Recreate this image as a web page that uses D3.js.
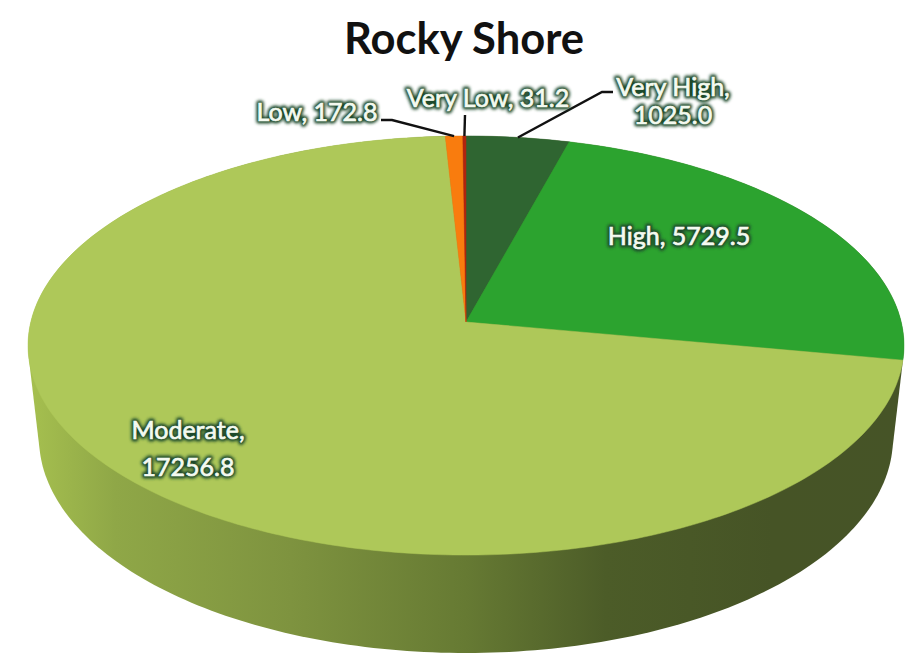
<!DOCTYPE html>
<html><head><meta charset="utf-8">
<script src="https://cdn.jsdelivr.net/npm/d3@7"></script>
<style>html,body{margin:0;background:#fff}svg{display:block}text{font-family:Lato,"Open Sans",sans-serif}</style>
</head><body><svg id="c" width="912" height="655"></svg>
<script>
const categories=["Very High","High","Moderate","Low","Very Low"];
const seriesValues=[1025.0,5729.5,17256.8,172.8,31.2];
const sliceColors=["#2f6531","#2ca32f","#aec859","#f97c0e","#b0240f"];
const chartTitle="Rocky Shore";

const svg=d3.select("#c"), defs=svg.append("defs");
const cx=466, cy=322, d=435.2, c=206.9, k=0.1122;
// perspective projection of the pie disc
const project=(a,r=1)=>{const X=r*Math.sin(a),Y=-r*Math.cos(a),w=1-k*Y;return [cx+d*X/w,cy+c*Y/w];};
const pie=d3.pie().sort(null)(seriesValues);
const line=d3.line();
const arcPts=(a0,a1)=>d3.range(0,1.0001,1/Math.max(2,Math.ceil((a1-a0)*60))).map(t=>project(a0+(a1-a0)*t));

// side wall: hull of top rim and the smaller lower rim
const g=defs.append("linearGradient").attr("id","side").attr("gradientUnits","userSpaceOnUse").attr("x1",28).attr("x2",904).attr("y1",0).attr("y2",0);
[[0,"#a6c04f"],[.1,"#8fa747"],[.3,"#7e933f"],[.5,"#667a33"],[.66,"#4c5c28"],[.85,"#465426"],[1,"#465427"]].forEach(([o,col])=>g.append("stop").attr("offset",o).attr("stop-color",col));
const rim=d3.range(0,2*Math.PI,.02);
const upper=rim.map(a=>project(a));
const lower=rim.map(a=>[466+427*Math.sin(a),438-215*Math.cos(a)]);
svg.append("path").attr("d",line(d3.polygonHull(upper.concat(lower)))+"Z").attr("fill","url(#side)");

// top face
pie.forEach((p,i)=>{
  const pts=[[cx,cy]].concat(arcPts(p.startAngle,p.endAngle));
  svg.append("path").attr("d",line(pts)+"Z").attr("fill",sliceColors[i]).attr("stroke",sliceColors[i]).attr("stroke-width",.5);
});

// leader lines
const mid=i=>(pie[i].startAngle+pie[i].endAngle)/2;
const leaders=[[0,[[602,92],[613,92]]],[3,[[392,120],[381,120]]],[4,[[465,115]]]];
leaders.forEach(([i,tail])=>{
  const s=project(mid(i));
  svg.append("path").attr("d",line([[s[0],s[1]]].concat(tail))).attr("fill","none").attr("stroke","#111").attr("stroke-width",2.4);
});

// title and labels
svg.append("text").attr("x",464).attr("y",54).attr("text-anchor","middle").attr("font-size",43.5).attr("font-weight",700).attr("fill","#111").text(chartTitle);
const glow=defs.append("filter").attr("id","glow").attr("x","-20%").attr("y","-40%").attr("width","140%").attr("height","180%");
glow.append("feGaussianBlur").attr("stdDeviation",1.5);
const labelSpots=[[673,[87,115]],[679,[236]],[188,[430,467]],[317,[112]],[488,[98]]];
const labelLines=[[`${categories[0]},`,seriesValues[0].toFixed(1)],[`${categories[1]}, ${seriesValues[1].toFixed(1)}`],[`${categories[2]},`,seriesValues[2].toFixed(1)],[`${categories[3]}, ${seriesValues[3].toFixed(1)}`],[`${categories[4]}, ${seriesValues[4].toFixed(1)}`]];
labelLines.forEach((ls,i)=>{
  const [x,ys]=labelSpots[i];
  ls.forEach((t,j)=>{
    const base=s=>s.attr("x",x).attr("y",ys[j]).attr("dy",".35em").attr("text-anchor","middle").attr("font-size",25).text(t);
    svg.append("text").call(base).attr("fill","#1f4a2c").attr("stroke","#1f4a2c").attr("stroke-width",5).attr("stroke-linejoin","round").attr("filter","url(#glow)");
    svg.append("text").call(base).attr("fill","#f4faf0").attr("stroke","#f4faf0").attr("stroke-width",.7);
  });
});
</script></body></html>
